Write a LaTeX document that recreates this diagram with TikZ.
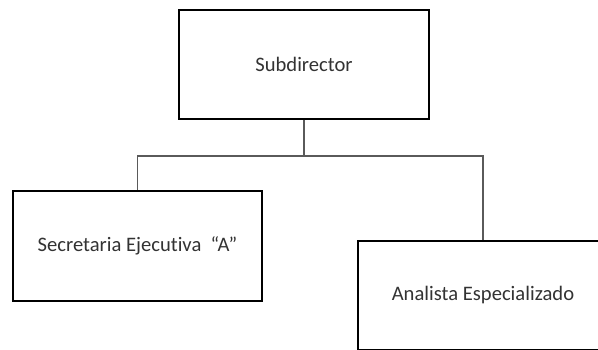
\documentclass[tikz,border=0pt]{standalone}
\usepackage{fontspec}
\setmainfont[Ligatures=NoCommon]{Carlito}
\definecolor{txt}{HTML}{333333}
\definecolor{wire}{HTML}{5A5A5A}
\begin{document}
\begin{tikzpicture}[x=1pt,y=-1pt,
  orgbox/.style={draw=black, line width=2pt, fill=white, rectangle,
    text=txt, font=\fontsize{20.6}{24}\selectfont, inner sep=0pt},
  wireline/.style={draw=wire, line width=1.2pt}]
  \useasboundingbox[fill=white] (0,0) rectangle (598,350);
  % org chart boxes
  \node[orgbox, minimum width=250pt, minimum height=109pt] (top) at (304,64.5) {Subdirector};
  \node[orgbox, minimum width=249pt, minimum height=110pt] (left) at (137.5,246) {Secretaria Ejecutiva~~“A”};
  \node[orgbox, minimum width=250pt, minimum height=109pt] (right) at (483,295.5) {Analista Especializado};
  % junction on the branch line
  \coordinate (j) at (304,156);
  \draw[wireline] (top.south) -- (j);
  \draw[wireline] (left.north) |- (j) -| (right.north);
\end{tikzpicture}
\end{document}
